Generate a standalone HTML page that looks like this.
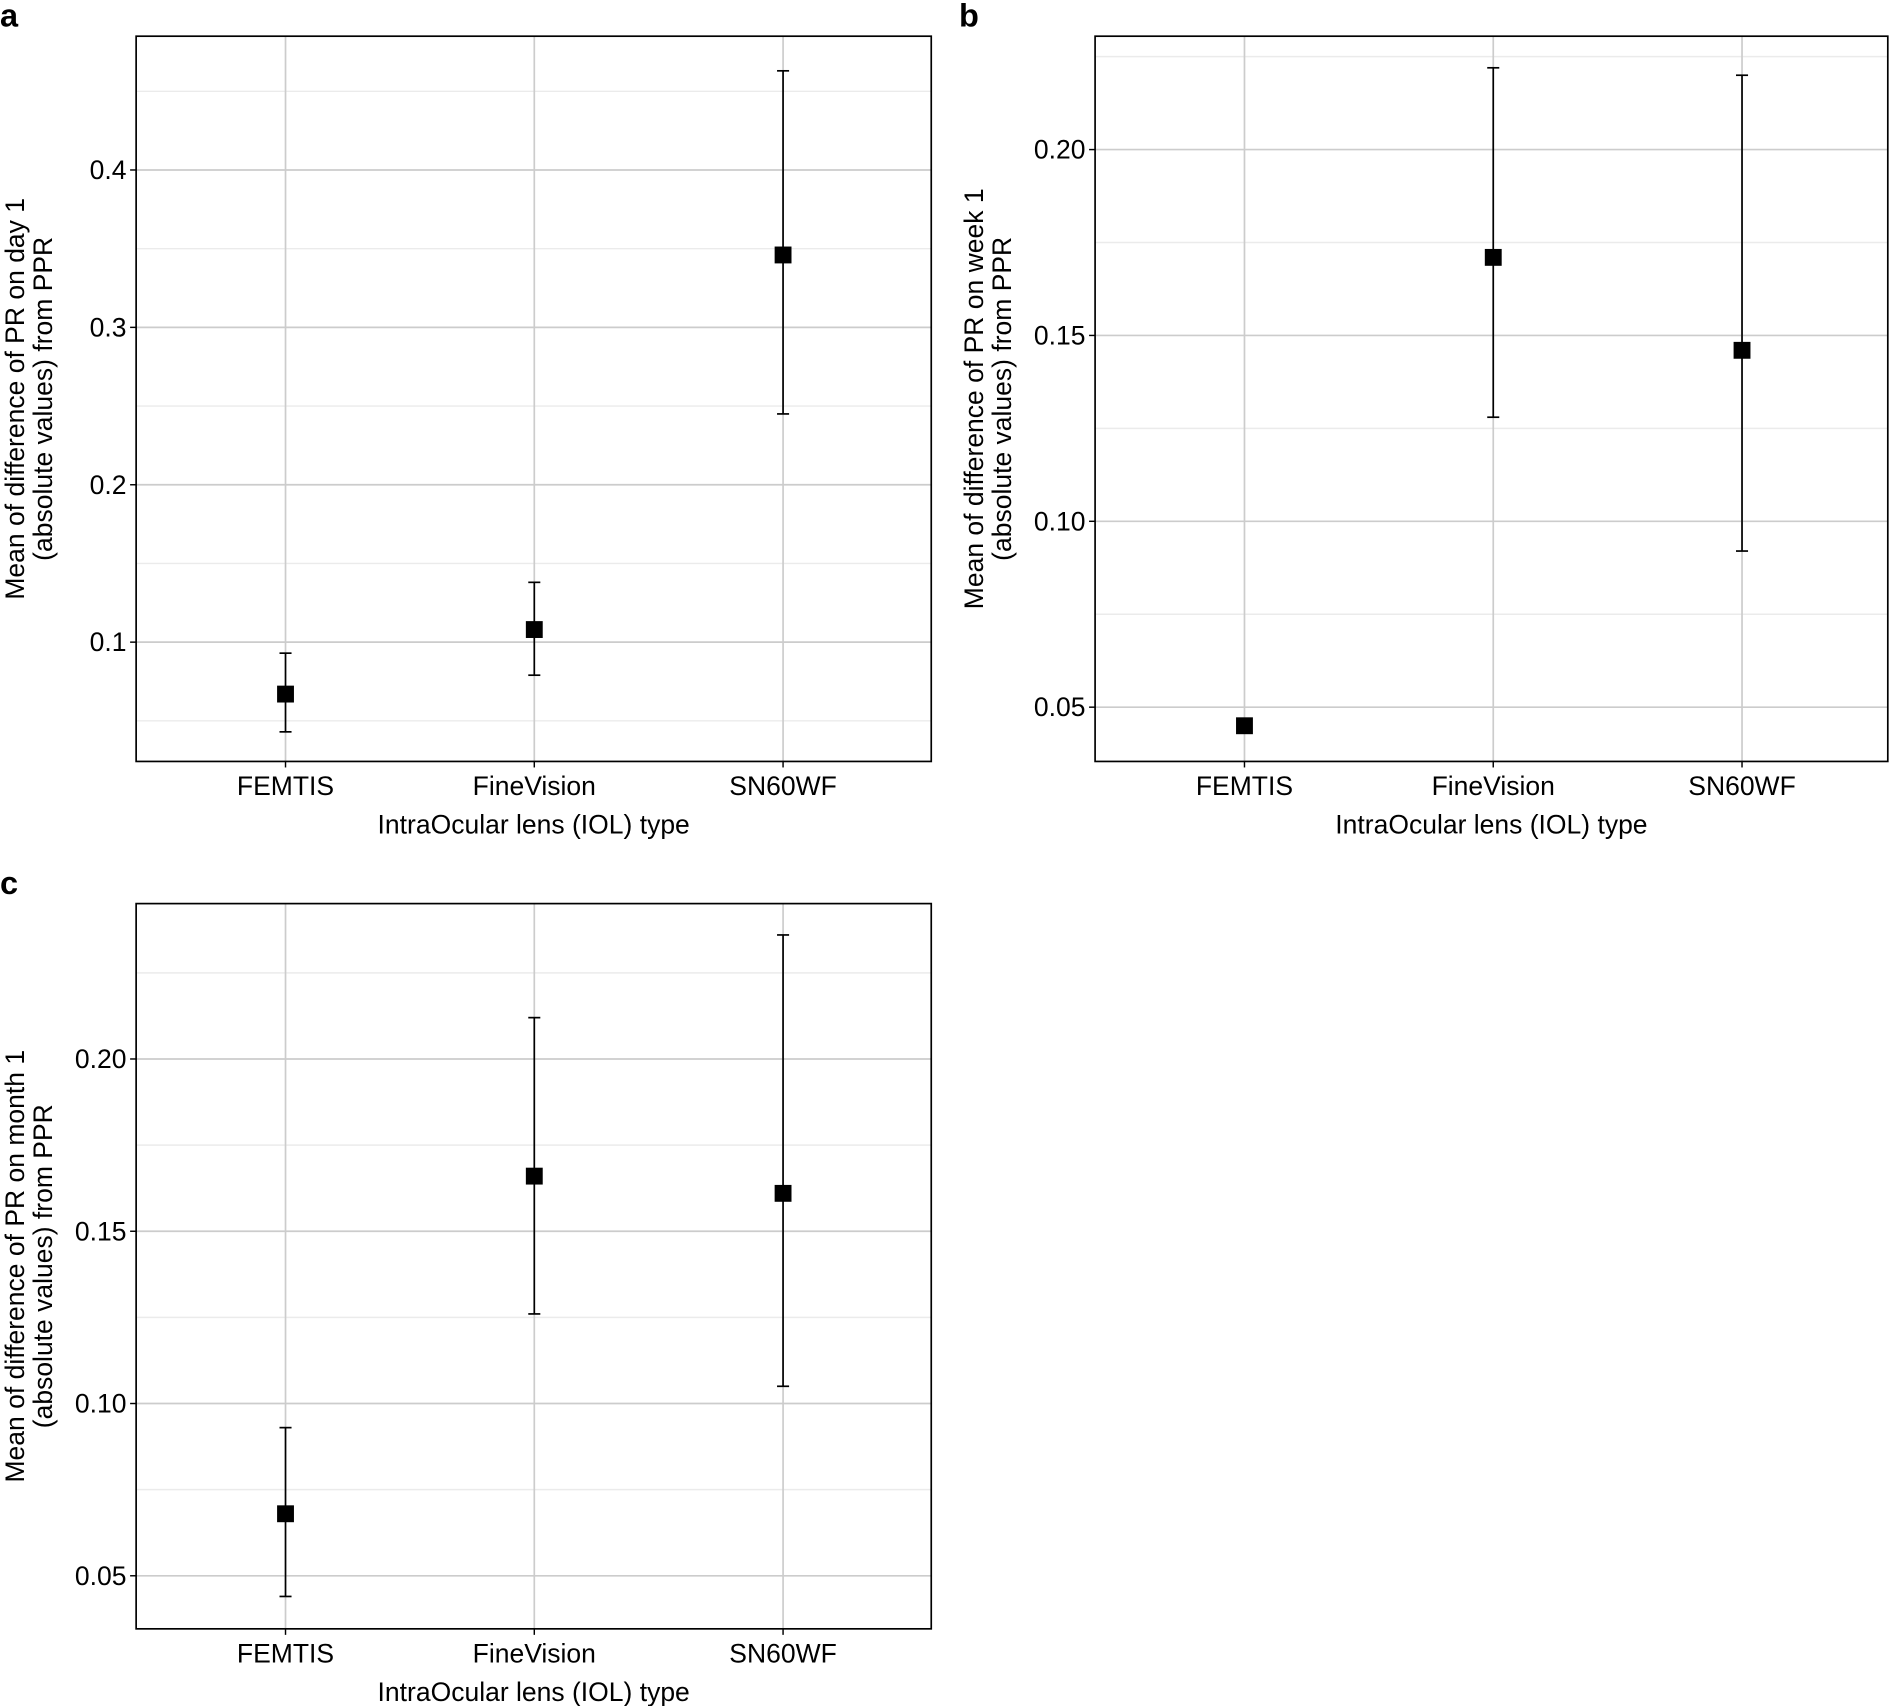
<!DOCTYPE html>
<html><head><meta charset="utf-8"><style>
html,body{margin:0;padding:0;background:#fff}
svg{display:block;font-family:"Liberation Sans",Arial,sans-serif}
</style></head><body>
<svg id="fig" width="1889" height="1706" viewBox="0 0 1568 1416" xmlns="http://www.w3.org/2000/svg"></svg>
<script>
const categories = ["FEMTIS", "FineVision", "SN60WF"];
const meansA = [0.067, 0.108, 0.346];
const lowA = [0.043, 0.079, 0.245];
const highA = [0.093, 0.138, 0.463];
const ticksA = [0.1, 0.2, 0.3, 0.4];
const tickLabelsA = ["0.1", "0.2", "0.3", "0.4"];
const minorA = [0.05, 0.15, 0.25, 0.35, 0.45];
const meansB = [0.045, 0.171, 0.146];
const lowB = [0.0445, 0.128, 0.092];
const highB = [0.0455, 0.222, 0.220];
const ticksB = [0.05, 0.10, 0.15, 0.20];
const tickLabelsB = ["0.05", "0.10", "0.15", "0.20"];
const minorB = [0.075, 0.125, 0.175, 0.225];
const meansC = [0.068, 0.166, 0.161];
const lowC = [0.044, 0.126, 0.105];
const highC = [0.093, 0.212, 0.236];
const ticksC = [0.05, 0.10, 0.15, 0.20];
const tickLabelsC = ["0.05", "0.10", "0.15", "0.20"];
const minorC = [0.075, 0.125, 0.175, 0.225];

const svg = document.getElementById('fig');
const NS = 'http://www.w3.org/2000/svg';
const FS = 22;
function mk(tag, attrs, parent){const e=document.createElementNS(NS,tag);for(const k in attrs)e.setAttribute(k,attrs[k]);(parent||svg).appendChild(e);return e;}

function panel(id, letter, x0, y0, w, h, dmin, dmax, means, lo, hi, ticks, tlabels, minor, title1, title2){
  const g = mk('g',{});
  
  
  const y = v => y0 + h - (v - dmin)/(dmax - dmin)*h;
  const xs = i => x0 + 124 + i*206.5;
  minor.forEach(v=>{ if(v>dmin&&v<dmax){ const l=mk('line',{x1:x0,x2:x0+w,y1:y(v),y2:y(v),stroke:'#ebebeb','stroke-width':1.2},g);
     }});
  ticks.forEach(v=>{ const l=mk('line',{x1:x0,x2:x0+w,y1:y(v),y2:y(v),stroke:'#cccccc','stroke-width':1.4},g);
     });
  categories.forEach((c,i)=>{ const l=mk('line',{x1:xs(i),x2:xs(i),y1:y0,y2:y0+h,stroke:'#cccccc','stroke-width':1.4},g);
     });
  const r=mk('rect',{x:x0,y:y0,width:w,height:h,fill:'none',stroke:'#000','stroke-width':1.4},g);
   
  ticks.forEach((v,i)=>{ mk('line',{x1:x0-5,x2:x0,y1:y(v),y2:y(v),stroke:'#000','stroke-width':1.2},g);
    const t=mk('text',{x:x0-8,y:y(v)+7.5,'text-anchor':'end','font-size':FS,fill:'#000'},g); t.textContent=tlabels[i];
     });
  categories.forEach((c,i)=>{ mk('line',{x1:xs(i),x2:xs(i),y1:y0+h,y2:y0+h+5,stroke:'#000','stroke-width':1.2},g);
    const t=mk('text',{x:xs(i),y:y0+h+28,'text-anchor':'middle','font-size':FS,fill:'#000'},g); t.textContent=c;
     
    const eb=mk('g',{},g);
     
    mk('line',{x1:xs(i),x2:xs(i),y1:y(hi[i]),y2:y(lo[i]),stroke:'#000','stroke-width':1.4},eb);
    mk('line',{x1:xs(i)-5,x2:xs(i)+5,y1:y(hi[i]),y2:y(hi[i]),stroke:'#000','stroke-width':1.4},eb);
    mk('line',{x1:xs(i)-5,x2:xs(i)+5,y1:y(lo[i]),y2:y(lo[i]),stroke:'#000','stroke-width':1.4},eb);
    const p=mk('rect',{x:xs(i)-7,y:y(means[i])-7,width:14,height:14,fill:'#000'},g);
     
  });
  const xt=mk('text',{x:x0+w/2,y:y0+h+60,'text-anchor':'middle','font-size':FS,fill:'#000'},g);
  xt.textContent='IntraOcular lens (IOL) type';
   
  const cy=y0+h/2, lx=x0-113;
  const yt=mk('text',{transform:`translate(${lx+20},${cy}) rotate(-90)`,'text-anchor':'middle','font-size':FS,fill:'#000'},g);
  yt.textContent=title1;
   
  const yt2=mk('text',{transform:`translate(${lx+43},${cy}) rotate(-90)`,'text-anchor':'middle','font-size':FS,fill:'#000'},g);
  yt2.textContent=title2;
   
  const pl=mk('text',{x:lx,y:y0-8,'font-size':27,'font-weight':'bold',fill:'#000'},g);
  pl.textContent=letter;
   
}
panel('a','a',113,30,660,602,0.0242,0.485,meansA,lowA,highA,ticksA,tickLabelsA,minorA,'Mean of difference of PR on day 1','(absolute values) from PPR');
panel('b','b',909,30,658,602,0.0354,0.2305,meansB,lowB,highB,ticksB,tickLabelsB,minorB,'Mean of difference of PR on week 1','(absolute values) from PPR');
panel('c','c',113,750,660,602,0.0346,0.2451,meansC,lowC,highC,ticksC,tickLabelsC,minorC,'Mean of difference of PR on month 1','(absolute values) from PPR');
</script>
</body></html>
